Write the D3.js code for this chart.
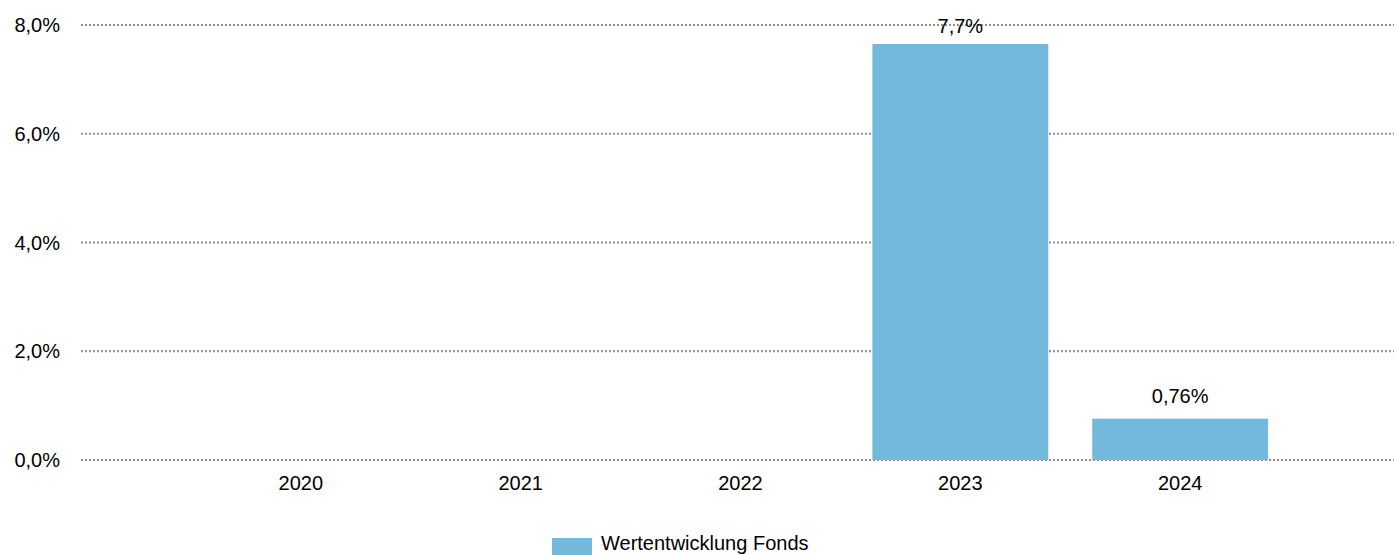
<!DOCTYPE html>
<html>
<head>
<meta charset="utf-8">
<script src="https://cdn.jsdelivr.net/npm/d3@7"></script>
<style>
  html, body { margin: 0; padding: 0; background: #fff; }
  svg { display: block; font-family: "Liberation Sans", Arial, sans-serif; }
</style>
</head>
<body>
<svg id="chart" width="1394" height="555"></svg>
<script>
const categories = ["2020", "2021", "2022", "2023", "2024"];
const values = [null, null, null, 7.65, 0.76];
const valueLabels = ["", "", "", "7,7%", "0,76%"];
const yTicks = [0, 2, 4, 6, 8];
const yTickLabels = ["0,0%", "2,0%", "4,0%", "6,0%", "8,0%"];
const seriesName = "Wertentwicklung Fonds";

(function () {
  const svg = d3.select("#chart");
  const W = 1394;
  const mLeft = 81, mRight = 1400, mTop = 25, mBottom = 460;
  const color = "#72b9dc";

  const x = d3.scalePoint().domain(categories).range([mLeft, mRight]).padding(1);
  const step = x.step();
  const barW = step * 0.8;
  const y = d3.scaleLinear().domain([0, 8]).range([mBottom, mTop]);

  // gridlines
  svg.append("g").selectAll("line").data(yTicks).join("line")
    .attr("x1", mLeft).attr("x2", W)
    .attr("y1", d => y(d)).attr("y2", d => y(d))
    .attr("stroke", "#8f8f8f").attr("stroke-width", 2).attr("stroke-dasharray", "2,2");

  // y labels
  svg.append("g").selectAll("text").data(yTicks).join("text")
    .attr("x", 60).attr("y", d => y(d)).attr("dy", "0.35em")
    .attr("text-anchor", "end").attr("font-size", 20).attr("fill", "#000")
    .text((d, i) => yTickLabels[i]);

  // x labels
  svg.append("g").selectAll("text").data(categories).join("text")
    .attr("x", d => x(d)).attr("y", mBottom + 30)
    .attr("text-anchor", "middle").attr("font-size", 20).attr("fill", "#000")
    .text(d => d);

  const data = categories.map((c, i) => ({c, v: values[i], label: valueLabels[i]})).filter(d => d.v != null);

  svg.append("g").selectAll("rect").data(data).join("rect")
    .attr("x", d => x(d.c) - barW / 2).attr("width", barW)
    .attr("y", d => y(d.v)).attr("height", d => y(0) - y(d.v))
    .attr("fill", color);

  svg.append("g").selectAll("text").data(data).join("text")
    .attr("x", d => x(d.c))
    .attr("y", d => Math.max(y(d.v) - 16, y(8) + 8))
    .attr("text-anchor", "middle").attr("font-size", 20).attr("fill", "#000")
    .text(d => d.label);

  // legend
  const lg = svg.append("g");
  lg.append("rect").attr("x", 552).attr("y", 538).attr("width", 40).attr("height", 20).attr("fill", color);
  lg.append("text").attr("x", 601).attr("y", 550).attr("font-size", 20).attr("fill", "#000").text(seriesName);
})();
</script>
</body>
</html>
